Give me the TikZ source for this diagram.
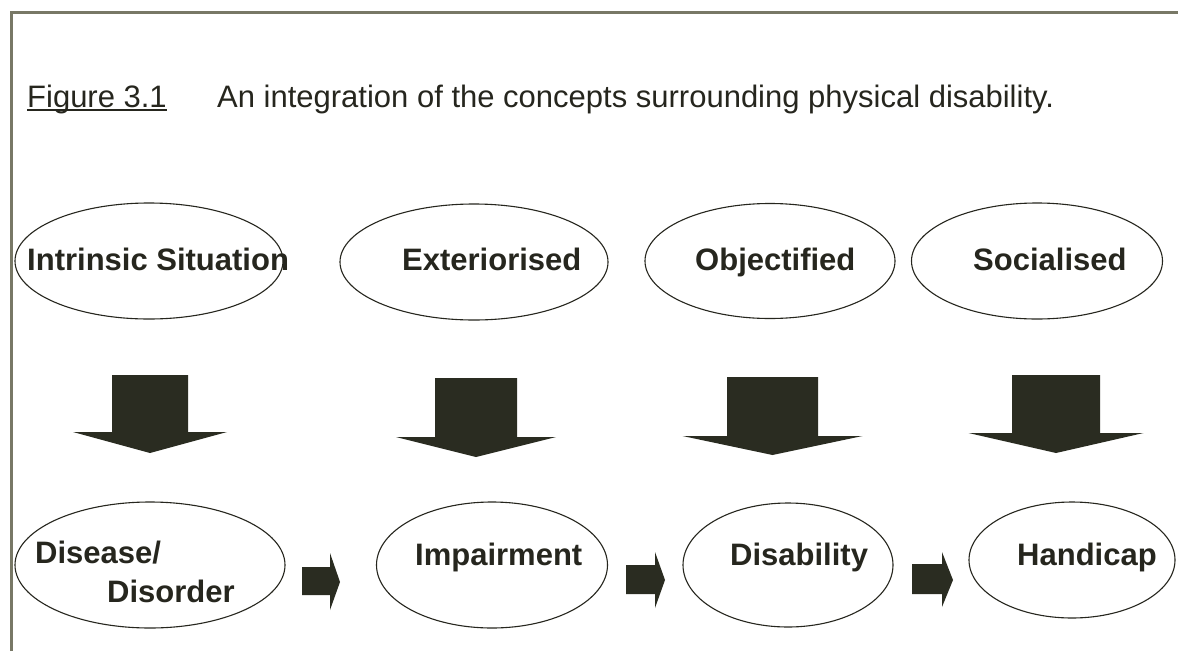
\documentclass[tikz,border=0pt]{standalone}
\usepackage{fontspec}
\setmainfont{Liberation Sans}
\usetikzlibrary{shapes.geometric,calc}
\definecolor{ink}{RGB}{38,38,30}
\definecolor{blockfill}{RGB}{42,44,33}
\definecolor{frameline}{RGB}{120,120,102}
\begin{document}
\begin{tikzpicture}[x=1pt,y=-1pt,
  oval/.style={ellipse,draw=ink,line width=1.1pt,inner sep=0pt},
  lbl/.style={anchor=base west,inner sep=0pt,text=ink,font=\fontsize{31}{37}\selectfont\bfseries},
  ttl/.style={anchor=base west,inner sep=0pt,text=ink,font=\fontsize{31}{37}\selectfont},
  block/.style={fill=blockfill,draw=none}]
\useasboundingbox (0,0) rectangle (1178,651);
\fill[white] (0,0) rectangle (1178,651);

% frame (top and left edge)
\draw[frameline,line width=3pt] (11,651) -- (11,12) -- (1178,12);

% caption
\node[ttl] (fig) at (27,107) {Figure 3.1};
\node[ttl] (cap) at (217,107) {An integration of the concepts surrounding physical disability.};
\draw[ink,line width=1.8pt] ($(fig.base west)+(0,3)$) -- ($(fig.base east)+(0,3)$);

% upper row of ovals
\node[oval,minimum width=268,minimum height=116] (intr) at (149,261) {};
\node[oval,minimum width=268,minimum height=116] (ext)  at (474,262) {};
\node[oval,minimum width=250,minimum height=115] (obj)  at (770,261) {};
\node[oval,minimum width=251,minimum height=116] (soc)  at (1037,261) {};
\node[lbl] (intrT) at (27,270)  {Intrinsic Situation};
\node[lbl] (extT)  at (402,270) {Exteriorised};
\node[lbl] (objT)  at (695,270) {Objectified};
\node[lbl] (socT)  at (973,270) {Socialised};

% lower row of ovals
\node[oval,minimum width=270,minimum height=126] (dis) at (150,565) {};
\node[oval,minimum width=231,minimum height=126] (imp) at (492,565) {};
\node[oval,minimum width=210,minimum height=124] (dab) at (788,565) {};
\node[oval,minimum width=206,minimum height=116] (hcp) at (1072,560) {};
\node[lbl] (disT1) at (35,563)  {Disease/};
\node[lbl] (disT2) at (107,602) {Disorder};
\node[lbl] (impT)  at (415,565) {Impairment};
\node[lbl] (dabT)  at (730,565) {Disability};
\node[lbl] (hcpT)  at (1017,565) {Handicap};

% downward block arrows: centre x, shaft half width, top, head line, head half width, tip
\foreach \cx/\sw/\ty/\hy/\hw/\tp in {150/38/375/432/77/453, 476/41/378/437/80/457,
                                     772.5/45.5/377/436/90/455, 1056/44/375/433/87.5/453}{
  \fill[block] (\cx-\sw,\ty) -- (\cx+\sw,\ty) -- (\cx+\sw,\hy) -- (\cx+\hw,\hy)
      -- (\cx,\tp) -- (\cx-\hw,\hy) -- (\cx-\sw,\hy) -- cycle;
}

% rightward block arrows between the lower ovals
\foreach \xa/\xb/\ya/\yb/\ha/\hb/\tx/\tyy in {302/330/567/595/553/610/340/582,
                                             626/655/565/594/552/608/665/580,
                                             912/942/564/594/552/607/953/580}{
  \fill[block] (\xa,\ya) -- (\xb,\ya) -- (\xb,\ha) -- (\tx,\tyy) -- (\xb,\hb)
      -- (\xb,\yb) -- (\xa,\yb) -- cycle;
}
\end{tikzpicture}
\end{document}
